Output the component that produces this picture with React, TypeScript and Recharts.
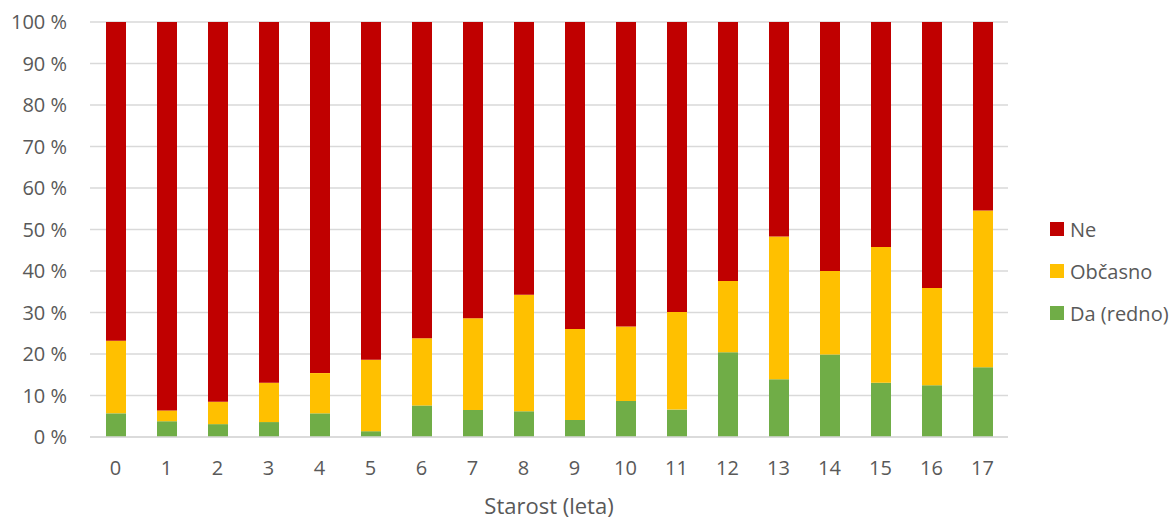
import React from "react";
import { Bar, BarChart, CartesianGrid, XAxis, YAxis } from "recharts";

const ages = ["0", "1", "2", "3", "4", "5", "6", "7", "8", "9", "10", "11", "12", "13", "14", "15", "16", "17"];
const daRedno = [5.7, 3.8, 3.1, 3.6, 5.7, 1.4, 7.6, 6.5, 6.2, 4.1, 8.7, 6.6, 20.4, 13.9, 19.9, 13.1, 12.5, 16.8];
const obcasno = [17.5, 2.6, 5.4, 9.5, 9.7, 17.2, 16.2, 22.1, 28.1, 21.9, 17.9, 23.5, 17.2, 34.4, 20.1, 32.7, 23.4, 37.8];
const ne = [76.8, 93.6, 91.5, 86.9, 84.6, 81.4, 76.2, 71.4, 65.7, 74.0, 73.4, 69.9, 62.4, 51.7, 60.0, 54.2, 64.1, 45.4];
const yTicks = [0, 10, 20, 30, 40, 50, 60, 70, 80, 90, 100];

const COLORS = { da: "#70AD47", obc: "#FFC000", ne: "#C00000" };
const FONT = "'Open Sans', sans-serif";
const TEXT = "#595959";

const data = ages.map((age, i) => ({
  age,
  da: daRedno[i],
  obc: obcasno[i],
  ne: ne[i],
}));

// legend shows the stack top-down
const legendItems = [
  { label: "Ne", color: COLORS.ne },
  { label: "Občasno", color: COLORS.obc },
  { label: "Da (redno)", color: COLORS.da },
];

export default function App() {
  return (
    <div style={{ position: "absolute", left: 0, top: 0, width: 1176, height: 519, background: "#fff" }}>
      <BarChart
        width={1176}
        height={519}
        data={data}
        margin={{ top: 22, right: 168, bottom: 52, left: 0 }}
        barCategoryGap={0}
      >
        <CartesianGrid vertical={false} stroke="#d9d9d9" strokeWidth={1.5} />
        <XAxis
          dataKey="age"
          height={30}
          tickLine={false}
          axisLine={{ stroke: "#d9d9d9", strokeWidth: 1.5 }}
          tick={{ fill: TEXT, fontSize: 20, fontFamily: FONT }}
          tickMargin={18}
          label={{
            value: "Starost (leta)",
            position: "insideBottom",
            offset: -47,
            fill: TEXT,
            fontSize: 22,
            fontFamily: FONT,
          }}
        />
        <YAxis
          width={90}
          domain={[0, 100]}
          ticks={yTicks}
          interval={0}
          tickLine={false}
          axisLine={false}
          tickMargin={17}
          tickFormatter={(v: number) => `${v} %`}
          tick={{ fill: TEXT, fontSize: 20, fontFamily: FONT }}
        />
        <Bar dataKey="da" stackId="a" fill={COLORS.da} barSize={20} isAnimationActive={false} />
        <Bar dataKey="obc" stackId="a" fill={COLORS.obc} barSize={20} isAnimationActive={false} />
        <Bar dataKey="ne" stackId="a" fill={COLORS.ne} barSize={20} isAnimationActive={false} />
      </BarChart>
      <div style={{ position: "absolute", left: 1050, top: 208, fontFamily: FONT, fontSize: 20, color: TEXT }}>
        {legendItems.map((item) => (
          <div key={item.label} style={{ display: "flex", alignItems: "center", height: 42, whiteSpace: "nowrap" }}>
            <span style={{ width: 14, height: 14, background: item.color, marginRight: 6 }} />
            <span>{item.label}</span>
          </div>
        ))}
      </div>
    </div>
  );
}
